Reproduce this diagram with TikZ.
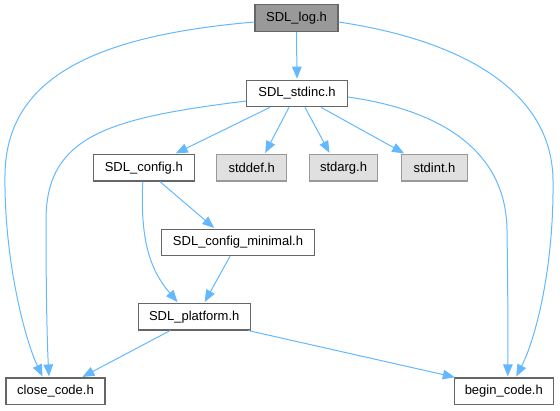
\documentclass[tikz,border=0pt]{standalone}
\usepackage{fontspec}
\setmainfont{Liberation Sans}
\usetikzlibrary{arrows.meta,calc}
\definecolor{edgeblue}{HTML}{63B8FF}
\definecolor{boxborder}{HTML}{666666}
\definecolor{greyfill}{HTML}{E0E0E0}
\definecolor{greyborder}{HTML}{999999}
\definecolor{curfill}{HTML}{999999}
\tikzset{
  filebox/.style={draw=boxborder, fill=white, line width=1.1pt, inner sep=0pt,
    minimum height=26.6pt, font=\fontsize{13}{15}\selectfont},
  curbox/.style={filebox, fill=curfill},
  sysbox/.style={filebox, draw=greyborder, fill=greyfill},
  dep/.style={draw=edgeblue, line width=1pt, shorten >=1pt, -{Triangle[length=12pt,width=9.5pt]}}
}
\begin{document}
\begin{tikzpicture}[x=1pt,y=-1pt]
\useasboundingbox (0,0) rectangle (560,411);
\node[curbox, minimum width=83pt] (log) at (296.5,18) {SDL\_log.h};
\node[filebox, minimum width=100.6pt] (stdinc) at (297,93.5) {SDL\_stdinc.h};
\node[filebox, minimum width=101pt] (config) at (143.8,167.7) {SDL\_config.h};
\node[sysbox, minimum width=70pt] (stddef) at (251.7,167.7) {stddef.h};
\node[sysbox, minimum width=68.4pt] (stdarg) at (343.5,167.7) {stdarg.h};
\node[sysbox, minimum width=65.6pt] (stdint) at (434.5,167.7) {stdint.h};
\node[filebox, minimum width=152.6pt] (minimal) at (238,242.5) {SDL\_config\_minimal.h};
\node[filebox, minimum width=111.7pt] (platform) at (194.2,316.7) {SDL\_platform.h};
\node[filebox, minimum width=99pt] (close) at (55.5,391.3) {close\_code.h};
\node[filebox, minimum width=99pt] (begin) at (503.8,391.3) {begin\_code.h};

\draw[dep] (log.south) -- (stdinc.north);
\draw[dep] ([yshift=-4pt]log.west) .. controls (90,36) and (6,80) .. (5,175)
  .. controls (4,260) and (25,340) .. ([xshift=-12.5pt]close.north);
\draw[dep] ([yshift=-4pt]log.east) .. controls (460,40) and (552,90) .. (553,180)
  .. controls (554,270) and (535,340) .. ([xshift=12pt]begin.north);
\draw[dep] ([yshift=-7.5pt]stdinc.west) .. controls (110,118) and (46,135) .. (46,220)
  .. controls (46,290) and (47,340) .. ([xshift=-6.5pt]close.north);
\draw[dep] ([yshift=-3.5pt]stdinc.east) .. controls (440,110) and (506,150) .. (507,230)
  .. controls (508,300) and (508,340) .. ([xshift=4pt]begin.north);
\draw[dep] ([xshift=-27pt]stdinc.south) -- ([xshift=31pt]config.north);
\draw[dep] ([xshift=-8pt]stdinc.south) -- ([xshift=13pt]stddef.north);
\draw[dep] ([xshift=8pt]stdinc.south) -- ([xshift=-13.5pt]stdarg.north);
\draw[dep] ([xshift=24pt]stdinc.south) -- ([xshift=-29.5pt]stdint.north);
\draw[dep] ([xshift=16pt]config.south) -- ([xshift=-23pt]minimal.north);
\draw[dep] ([xshift=-1pt]config.south) .. controls (140,240) and (150,270) .. ([xshift=-16pt]platform.north);
\draw[dep] ([xshift=-8pt]minimal.south) -- ([xshift=10pt]platform.north);
\draw[dep] ([xshift=-24pt]platform.south) -- ([xshift=26pt]close.north);
\draw[dep] ([xshift=54pt]platform.south) -- ([xshift=-48pt]begin.north);
\end{tikzpicture}
\end{document}
